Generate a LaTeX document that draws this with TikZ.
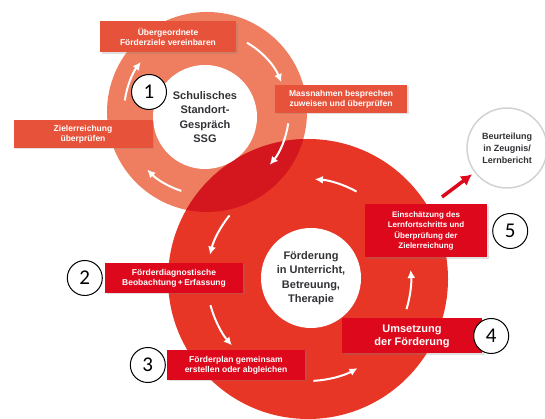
\documentclass[tikz,border=0pt]{standalone}
\usepackage{fontspec}
\setmainfont{Liberation Sans}
\newfontfamily\numfont{Carlito}
\usetikzlibrary{shapes,arrows.meta,positioning,shadows}

\definecolor{ringorange}{RGB}{238,126,95}
\definecolor{boxorange}{RGB}{231,82,58}
\definecolor{ringred}{RGB}{232,54,38}
\definecolor{boxred}{RGB}{222,8,28}
\definecolor{lensred}{RGB}{212,22,30}
\definecolor{darktext}{RGB}{50,50,55}

\tikzstyle{obox} = [rectangle, fill=boxorange, text=white, font=\bfseries\fontsize{8.5}{10}\selectfont, align=center, inner sep=0pt, drop shadow={shadow xshift=1.5pt, shadow yshift=-1.5pt, opacity=0.25}]
\tikzstyle{rbox} = [obox, fill=boxred]
\tikzstyle{num} = [circle, draw, line width=1pt, fill=white, minimum size=35pt, inner sep=0pt, font=\numfont\fontsize{21}{21}\selectfont]
\tikzstyle{hub} = [circle, fill=white, inner sep=0pt, text=darktext, align=center, font=\bfseries\fontsize{11}{14.5}\selectfont]
\tikzstyle{ring} = [circle, inner sep=0pt]
\tikzstyle{flow} = [draw=white, line width=2pt, -{Latex[length=8pt,width=8pt]}]
\tikzstyle{outarrow} = [draw=boxred, line width=3.5pt, -{Latex[length=11pt,width=12pt]}]

\begin{document}
\begin{tikzpicture}[x=1pt,y=1pt]
\useasboundingbox (0,0) rectangle (545,419);

% rings
\node [ring, fill=ringorange, minimum size=200pt] (ssgring) at (207,307) {};
\node [ring, fill=ringred, minimum size=280pt] (foerring) at (308,140) {};
\begin{scope}
\clip (ssgring.center) circle (100pt);
\fill [lensred] (foerring.center) circle (140pt);
\end{scope}

\node [hub, minimum size=104pt] (ssg) at (205,302) {Schulisches\\Standort-\\Gespräch\\SSG};
\node [hub, minimum size=100pt] (foerd) at (311,141) {Förderung\\in Unterricht,\\Betreuung,\\Therapie};

% cycle arrows
\draw [flow] (ssgring.center) ++(60:80pt) arc [start angle=60, end angle=22, radius=80pt];
\draw [flow] (ssgring.center) ++(-8:82pt) arc [start angle=-8, end angle=-40, radius=82pt];
\draw [flow] (ssgring.center) ++(-108:83pt) arc [start angle=-108, end angle=-136, radius=83pt];
\draw [flow] (ssgring.center) ++(172:83pt) arc [start angle=172, end angle=143, radius=83pt];

\draw [flow] (foerring.center) ++(61:100pt) arc [start angle=61, end angle=86, radius=100pt];
\draw [flow] (foerring.center) ++(141:101pt) arc [start angle=141, end angle=166, radius=101pt];
\draw [flow] (foerring.center) ++(195:101pt) arc [start angle=195, end angle=221, radius=101pt];
\draw [flow] (foerring.center) ++(-87:102pt) arc [start angle=-87, end angle=-61, radius=102pt];
\draw [flow] (foerring.center) ++(-17:103pt) arc [start angle=-17, end angle=5, radius=103pt];

% steps
\node [obox, minimum width=136pt, minimum height=31pt] (ziele) at (168,382) {Übergeordnete\\Förderziele vereinbaren};
\node [obox, minimum width=132pt, minimum height=28pt] (massn) at (341,320) {Massnahmen besprechen\\zuweisen und überprüfen};
\node [obox, minimum width=139pt, minimum height=28pt] (zielerr) at (83,285) {Zielerreichung\\überprüfen};

\node [rbox, minimum width=138pt, minimum height=30pt] (diag) at (174,141) {Förderdiagnostische\\Beobachtung\,+\,Erfassung};
\node [rbox, minimum width=138pt, minimum height=30pt] (plan) at (236,54) {Förderplan gemeinsam\\erstellen oder abgleichen};
\node [rbox, minimum width=140pt, minimum height=35pt, font=\bfseries\fontsize{11}{13}\selectfont] (umsetz) at (412,83) {Umsetzung\\der Förderung};
\node [rbox, minimum width=122pt, minimum height=53pt, font=\bfseries\fontsize{8}{10.5}\selectfont] (einsch) at (426,188) {Einschätzung des\\Lernfortschritts und\\Überprüfung der\\Zielerreichung};

% numbers
\node [num] (n1) at (149,327) {1};
\node [num, left=2pt of diag] (n2) {2};
\node [num, left=1pt of plan] (n3) {3};
\node [num] (n4) at ([xshift=9pt]umsetz.east) {4};
\node [num, right=5pt of einsch] (n5) {5};

% result
\node [ring, draw=gray!35, line width=1.5pt, fill=white, minimum size=80pt, text=darktext, align=center, font=\bfseries\fontsize{9}{12}\selectfont] (beurt) at (507,271) {Beurteilung\\in Zeugnis/\\Lernbericht};
\coordinate (astart) at (442,222);
\path [outarrow, shorten >=3pt] (astart) -- (beurt);

\end{tikzpicture}
\end{document}
